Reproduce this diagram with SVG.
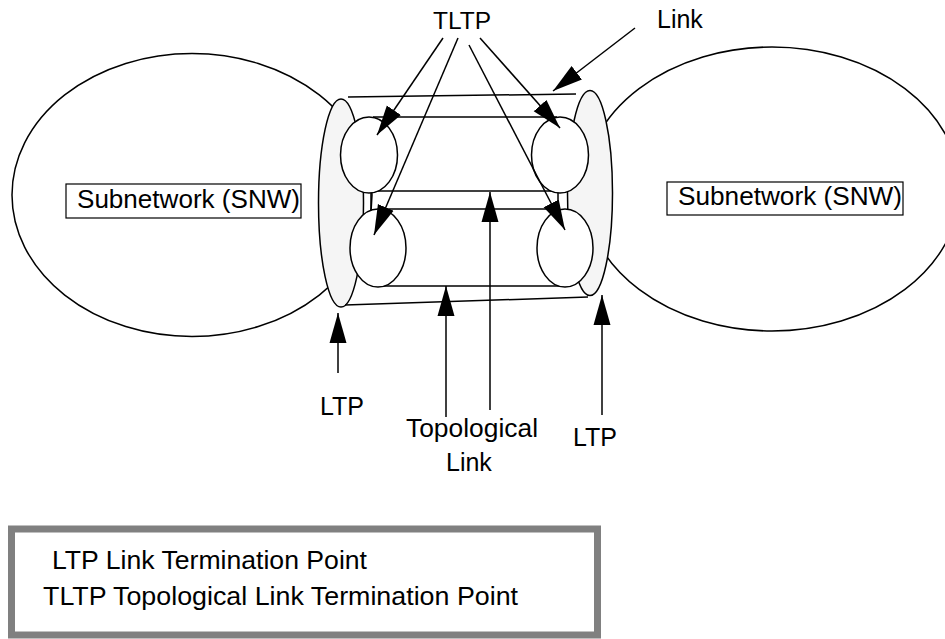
<svg xmlns="http://www.w3.org/2000/svg" width="945" height="639" viewBox="0 0 945 639">
<style>
.o{fill:#fff;stroke:#000;stroke-width:1.5}
.ltp{fill:#f5f5f5;stroke:#000;stroke-width:1.5}
.ln{fill:none;stroke:#000;stroke-width:1.5}
.ar{fill:none;stroke:#000;stroke-width:1.5;marker-end:url(#ah)}
.t{font-family:"Liberation Sans",Arial,sans-serif;font-size:26px;fill:#000}
.box{fill:none;stroke:#000;stroke-width:1.2}
</style>
<defs>
<marker id="ah" markerUnits="userSpaceOnUse" markerWidth="30" markerHeight="18" refX="30" refY="8.5" orient="auto" viewBox="0 0 30 17">
<path d="M0,0 L30,8.5 L0,17 z" fill="#000"/>
</marker>
</defs>
<g id="snw-left">
<ellipse class="o" cx="192" cy="195" rx="180" ry="141.5"/>
<rect class="box" x="66" y="184" width="235" height="34"/>
<text class="t" x="77" y="208" textLength="223" lengthAdjust="spacingAndGlyphs">Subnetwork (SNW)</text>
</g>
<g id="snw-right">
<ellipse class="o" cx="772" cy="189" rx="188" ry="142"/>
<rect class="box" x="667" y="182" width="236" height="33"/>
<text class="t" x="678" y="205" textLength="224" lengthAdjust="spacingAndGlyphs">Subnetwork (SNW)</text>
</g>
<g id="ltp-left"><ellipse class="ltp" cx="341" cy="203" rx="22.5" ry="104"/></g>
<g id="ltp-right"><ellipse class="ltp" cx="590" cy="193" rx="22.5" ry="102.5"/></g>
<g id="connectors">
<line class="ln" x1="348" y1="97" x2="576" y2="94"/>
<line class="ln" x1="345" y1="305" x2="588" y2="297"/>
<line class="ln" x1="373" y1="117" x2="557" y2="117"/>
<line class="ln" x1="368" y1="191" x2="565" y2="191"/>
<line class="ln" x1="371" y1="191" x2="371" y2="211"/>
<line class="ln" x1="558" y1="191" x2="558" y2="211"/>
<line class="ln" x1="385" y1="209" x2="553" y2="209"/>
<line class="ln" x1="378" y1="286" x2="570" y2="286"/>
</g>
<g id="tltp-tl"><ellipse class="o" cx="369" cy="155" rx="28.5" ry="38"/></g>
<g id="tltp-bl"><ellipse class="o" cx="378" cy="248" rx="28" ry="39"/></g>
<g id="tltp-tr"><ellipse class="o" cx="560" cy="155" rx="28.5" ry="38"/></g>
<g id="tltp-br"><ellipse class="o" cx="565" cy="248" rx="28" ry="39"/></g>
<g id="arrows">
<line class="ar" x1="443" y1="38" x2="377" y2="135"/>
<line class="ar" x1="458" y1="38" x2="374" y2="235"/>
<line class="ar" x1="469" y1="45" x2="565" y2="230"/>
<line class="ar" x1="480" y1="38" x2="560" y2="128"/>
<line class="ar" x1="635" y1="28" x2="553" y2="91"/>
<line class="ar" x1="338" y1="373" x2="338" y2="313"/>
<line class="ar" x1="446" y1="417" x2="446" y2="286"/>
<line class="ar" x1="490" y1="410" x2="490" y2="192"/>
<line class="ar" x1="602" y1="415" x2="602" y2="295"/>
</g>
<g id="labels">
<text class="t" x="433" y="29" style="font-size:24.5px">TLTP</text>
<text class="t" x="657" y="28" style="font-size:25px">Link</text>
<text class="t" x="320" y="415" style="font-size:25px">LTP</text>
<text class="t" x="406" y="437" textLength="132" lengthAdjust="spacingAndGlyphs">Topological</text>
<text class="t" x="446" y="471" style="font-size:25px">Link</text>
<text class="t" x="573" y="446" style="font-size:25px">LTP</text>
</g>
<g id="legend">
<rect x="11.5" y="529" width="586" height="106" fill="#fff" stroke="#808080" stroke-width="7"/>
<text class="t" x="52" y="569" textLength="315" lengthAdjust="spacingAndGlyphs">LTP Link Termination Point</text>
<text class="t" x="43" y="605" textLength="475" lengthAdjust="spacingAndGlyphs">TLTP Topological Link Termination Point</text>
</g>
</svg>
